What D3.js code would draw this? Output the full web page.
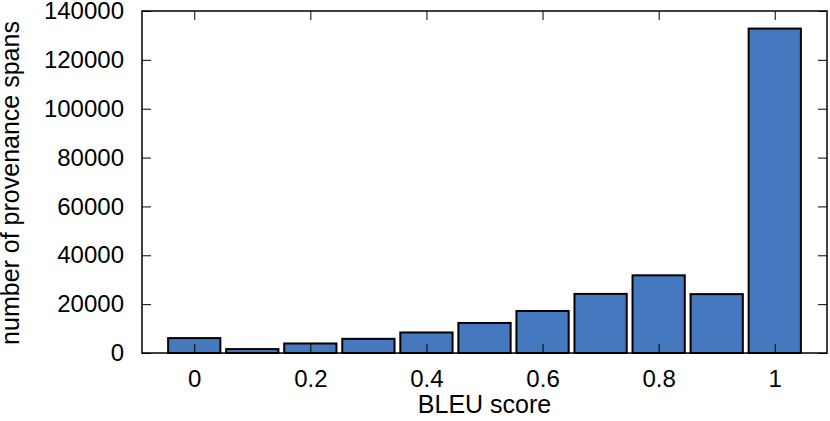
<!DOCTYPE html>
<html>
<head>
<meta charset="utf-8">
<script src="https://cdn.jsdelivr.net/npm/d3@7"></script>
<style>
  body { margin: 0; background: #fff; }
  svg text { font-family: "Liberation Sans", Arial, sans-serif; fill: #000; }
</style>
</head>
<body>
<div id="chart"></div>
<script>
// bins of BLEU score and number of provenance spans in each
var bleuBins = [0, 0.1, 0.2, 0.3, 0.4, 0.5, 0.6, 0.7, 0.8, 0.9, 1.0];
var spanCounts = [6100, 1600, 3900, 5800, 8400, 12300, 17200, 24200, 31800, 24100, 132800];
var xTickValues = [0, 0.2, 0.4, 0.6, 0.8, 1];
var yTickValues = [0, 20000, 40000, 60000, 80000, 100000, 120000, 140000];

var W = 830, H = 421;
var margin = {top: 11, right: 3, bottom: 68, left: 142};
var width = W - margin.left - margin.right,
    height = H - margin.top - margin.bottom;

var x = d3.scaleLinear().domain([-0.09, 1.09]).range([0, width]);
var y = d3.scaleLinear().domain([0, 140000]).range([height, 0]);

var svg = d3.select("#chart").append("svg")
  .attr("width", W)
  .attr("height", H);

var g = svg.append("g")
  .attr("transform", "translate(" + margin.left + "," + margin.top + ")");

// bars
var barWidth = x(0.09) - x(0);
g.selectAll("rect.bar")
  .data(bleuBins)
  .enter()
  .append("rect")
  .attr("class", "bar")
  .attr("x", function(d) { return x(d) - barWidth / 2; })
  .attr("y", function(d, i) { return y(spanCounts[i]); })
  .attr("width", barWidth)
  .attr("height", function(d, i) { return height - y(spanCounts[i]); })
  .attr("fill", "#4479bf")
  .attr("stroke", "#000")
  .attr("stroke-width", 2);

// axes, ticks pointing inward, mirrored on the other sides
var axisStyle = function(sel) {
  sel.select(".domain").remove();
  sel.selectAll(".tick line").attr("stroke", "#000").attr("stroke-width", 1);
  sel.selectAll(".tick text").attr("font-size", 24).attr("font-family", "Liberation Sans, Arial, sans-serif");
};

g.append("g")
  .attr("transform", "translate(0," + height + ")")
  .call(d3.axisBottom(x).tickValues(xTickValues).tickSizeInner(-9).tickPadding(17).tickFormat(d3.format("")))
  .call(axisStyle);

g.append("g")
  .call(d3.axisTop(x).tickValues(xTickValues).tickSizeInner(-9).tickFormat(""))
  .call(axisStyle);

g.append("g")
  .call(d3.axisLeft(y).tickValues(yTickValues).tickSizeInner(-9).tickPadding(18).tickFormat(d3.format("d")))
  .call(axisStyle);

g.append("g")
  .attr("transform", "translate(" + width + ",0)")
  .call(d3.axisRight(y).tickValues(yTickValues).tickSizeInner(-9).tickFormat(""))
  .call(axisStyle);

// frame
g.append("rect")
  .attr("width", width)
  .attr("height", height)
  .attr("fill", "none")
  .attr("stroke", "#000")
  .attr("stroke-width", 1.5);

// axis titles
svg.append("text")
  .attr("x", margin.left + x(0.5))
  .attr("y", 413)
  .attr("text-anchor", "middle")
  .attr("font-size", 25)
  .text("BLEU score");

svg.append("text")
  .attr("transform", "translate(18.5," + (margin.top + height / 2 + 1) + ") rotate(-90)")
  .attr("text-anchor", "middle")
  .attr("font-size", 25)
  .text("number of provenance spans");
</script>
</body>
</html>
